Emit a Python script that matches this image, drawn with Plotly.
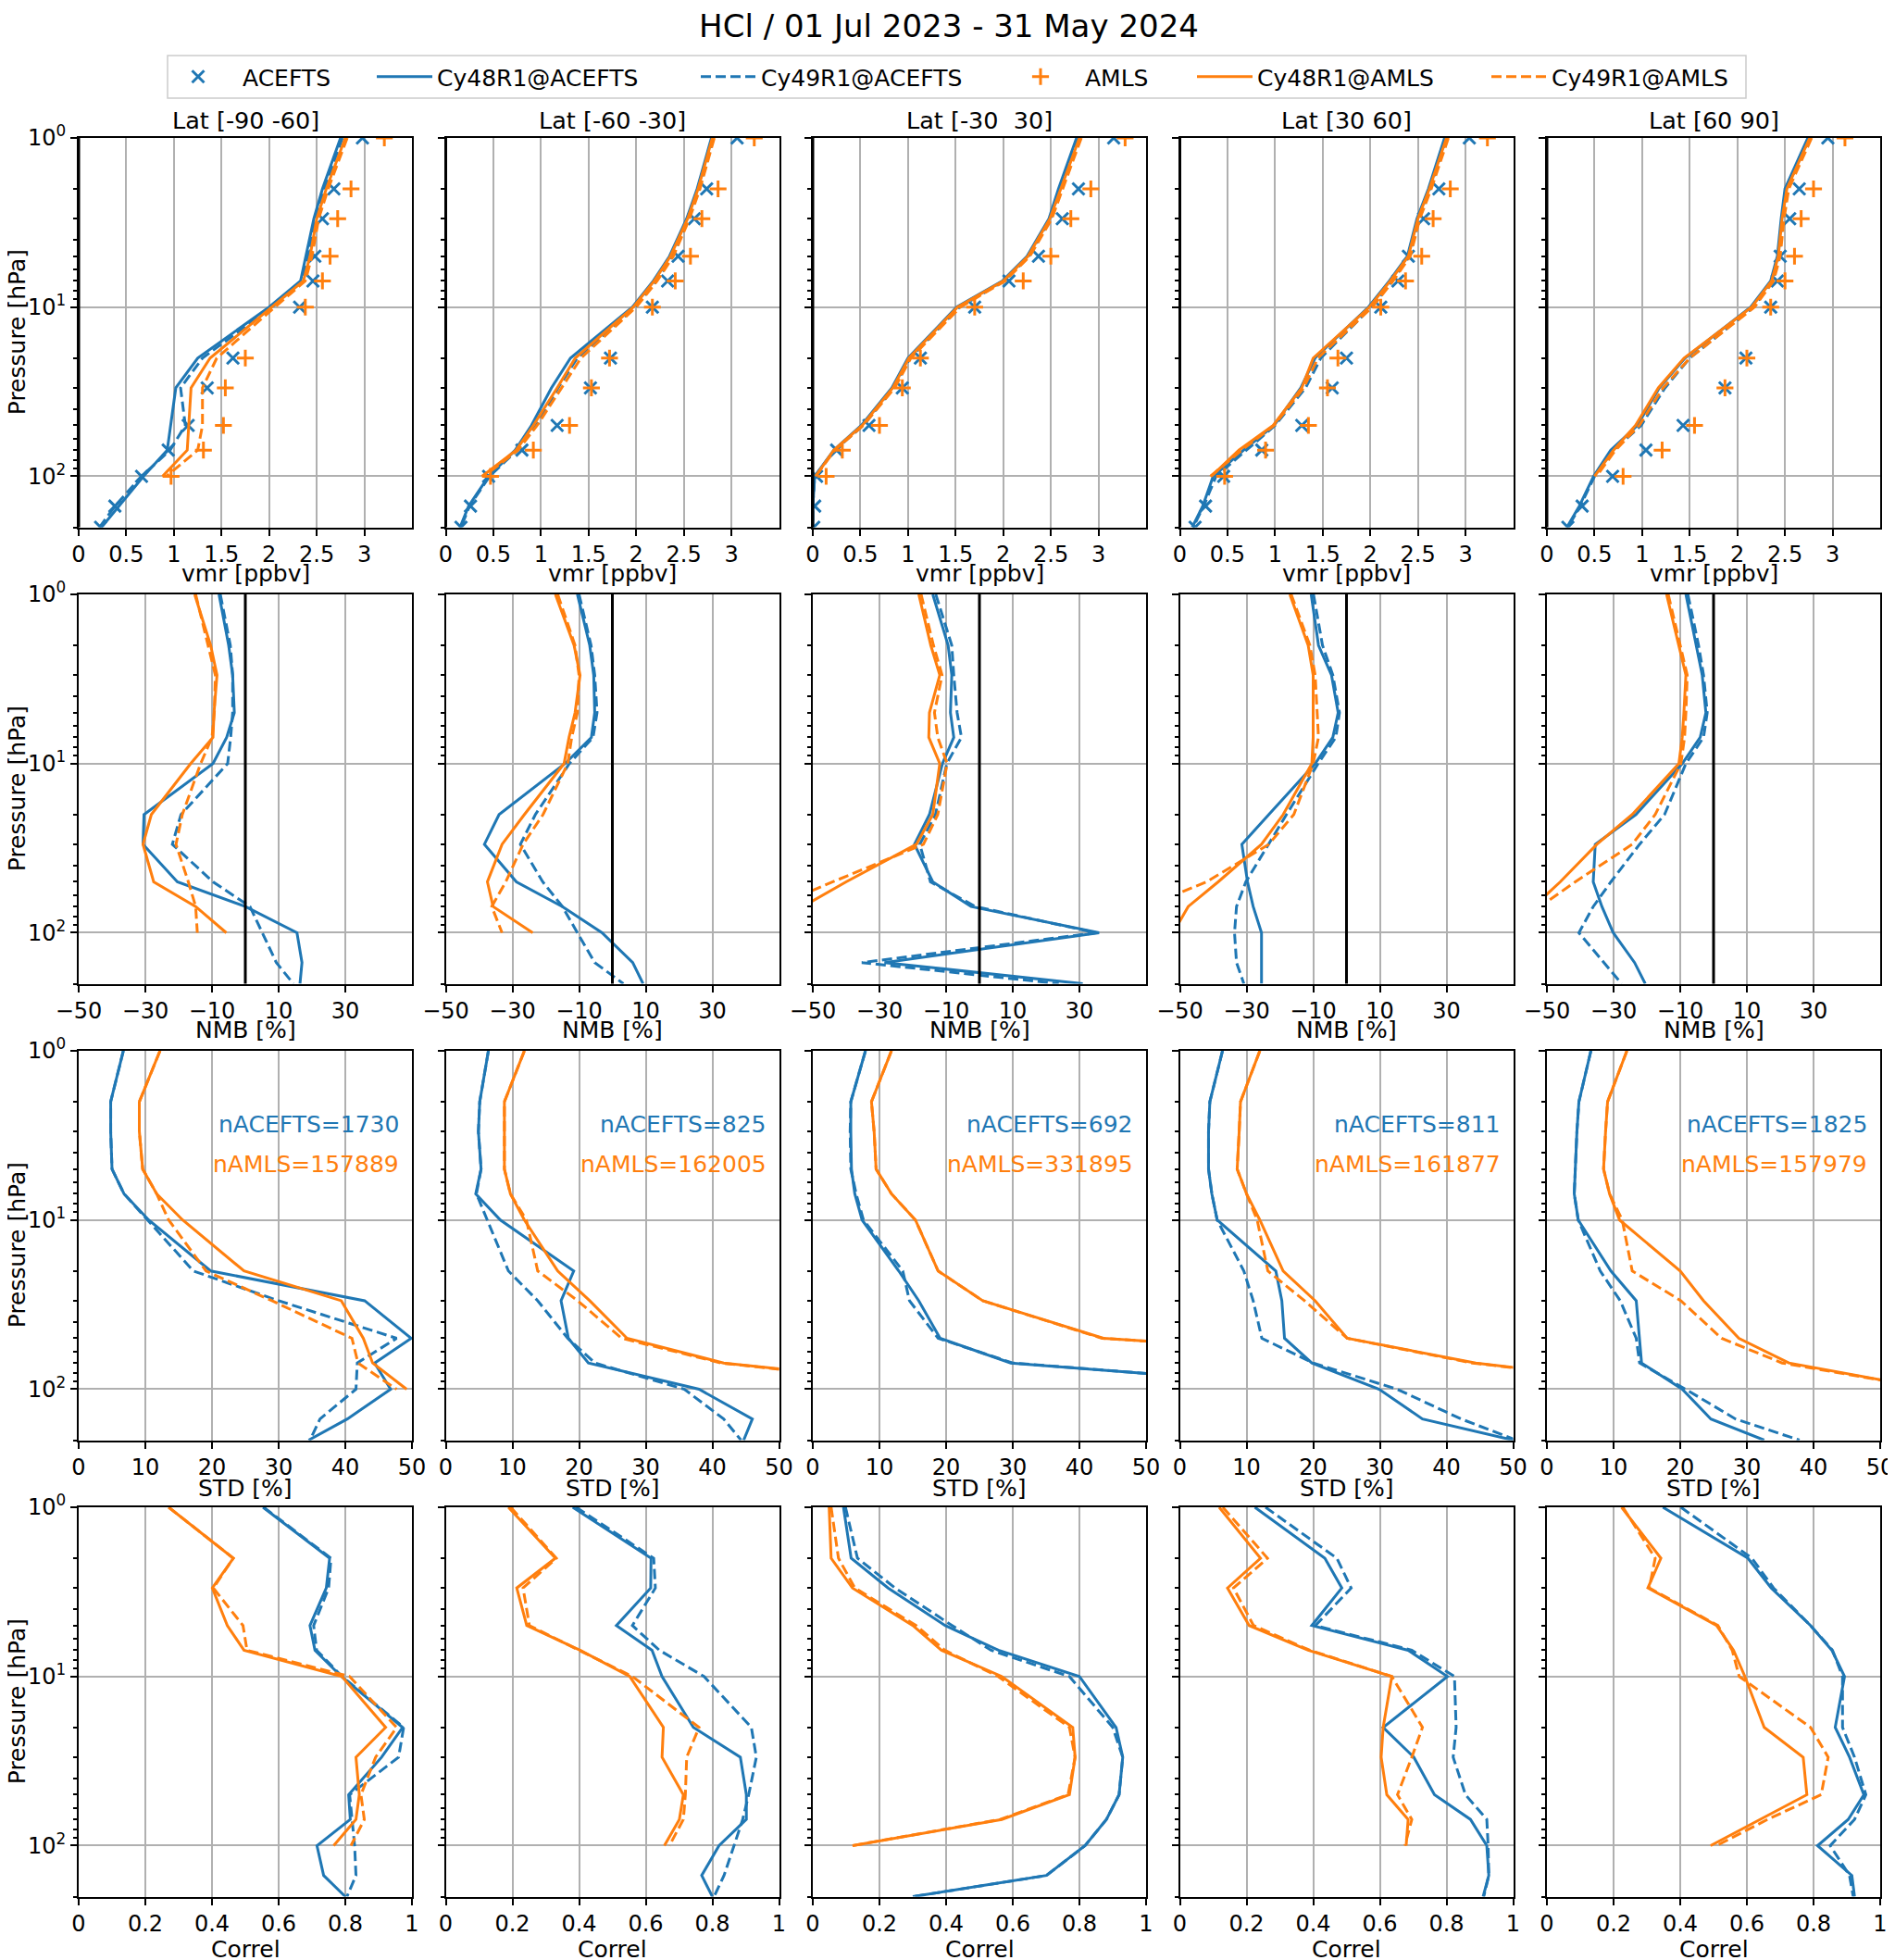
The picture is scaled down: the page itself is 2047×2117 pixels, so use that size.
import plotly.graph_objects as go

W, H = 2047, 2117
PAGE_PAD = 8  # the html body margin shifts the figure by 8 px
BLUE = "#1f77b4"
ORANGE = "#ff7f0e"
FONT = "DejaVu Sans"

# pressure levels [hPa]; AMLS stops at 100 hPa
levels = [1, 2, 3, 5, 7, 10, 20, 30, 50, 70, 100, 150, 200]
levels_amls = levels[:11]

lat_bands = ["Lat [-90 -60]", "Lat [-60 -30]", "Lat [-30\u00a0 30]", "Lat [30 60]", "Lat [60 90]"]
n_acefts = [1730, 825, 692, 811, 1825]
n_amls = [157889, 162005, 331895, 161877, 157979]

# --- row 1: vmr [ppbv] ---
vmr_acefts = [
    [2.98, 2.68, 2.56, 2.48, 2.46, 2.32, 1.62, 1.35, 1.15, 0.94, 0.66, 0.38, 0.23],
    [3.06, 2.74, 2.61, 2.44, 2.33, 2.17, 1.73, 1.52, 1.17, 0.80, 0.45, 0.26, 0.16],
    [3.16, 2.79, 2.62, 2.37, 2.06, 1.70, 1.13, 0.94, 0.59, 0.25, 0.04, 0.02, 0.01],
    [3.04, 2.72, 2.56, 2.40, 2.29, 2.11, 1.75, 1.60, 1.28, 0.86, 0.46, 0.27, 0.16],
    [2.95, 2.65, 2.55, 2.45, 2.42, 2.35, 2.09, 1.87, 1.43, 1.04, 0.69, 0.37, 0.22],
]
vmr_amls = [
    [3.21, 2.86, 2.72, 2.64, 2.56, 2.38, 1.75, 1.54, 1.52, 1.31, 0.97],
    [3.24, 2.86, 2.69, 2.57, 2.41, 2.17, 1.72, 1.53, 1.30, 0.92, 0.47],
    [3.28, 2.92, 2.71, 2.50, 2.21, 1.70, 1.13, 0.94, 0.70, 0.31, 0.14],
    [3.23, 2.84, 2.66, 2.54, 2.37, 2.11, 1.66, 1.55, 1.35, 0.90, 0.47],
    [3.13, 2.80, 2.67, 2.60, 2.50, 2.35, 2.10, 1.87, 1.55, 1.21, 0.80],
]
vmr_cy48_acefts = [
    [2.75, 2.56, 2.47, 2.39, 2.33, 2.00, 1.25, 1.02, 0.97, 0.93, 0.68, 0.42, 0.24],
    [2.79, 2.64, 2.53, 2.35, 2.18, 1.96, 1.31, 1.11, 0.90, 0.73, 0.45, 0.24, 0.15],
    [2.77, 2.58, 2.48, 2.25, 1.99, 1.51, 1.00, 0.83, 0.51, 0.22, 0.02, 0.00, 0.00],
    [2.78, 2.61, 2.49, 2.39, 2.20, 1.98, 1.42, 1.27, 0.99, 0.67, 0.35, 0.24, 0.13],
    [2.74, 2.50, 2.46, 2.42, 2.35, 2.14, 1.45, 1.18, 0.95, 0.67, 0.49, 0.34, 0.21],
]
vmr_cy49_acefts = [
    [2.77, 2.58, 2.49, 2.41, 2.35, 2.03, 1.30, 1.07, 1.12, 0.96, 0.66, 0.38, 0.22],
    [2.81, 2.66, 2.55, 2.38, 2.21, 1.99, 1.38, 1.18, 0.95, 0.75, 0.46, 0.25, 0.16],
    [2.79, 2.60, 2.50, 2.27, 2.01, 1.54, 1.02, 0.85, 0.53, 0.23, 0.02, 0.00, 0.00],
    [2.80, 2.63, 2.51, 2.41, 2.23, 2.01, 1.48, 1.32, 1.00, 0.70, 0.38, 0.25, 0.14],
    [2.76, 2.52, 2.48, 2.44, 2.37, 2.17, 1.50, 1.24, 0.99, 0.70, 0.50, 0.35, 0.22],
]
vmr_cy48_amls = [
    [2.80, 2.60, 2.50, 2.43, 2.36, 2.03, 1.38, 1.18, 1.16, 1.14, 0.88],
    [2.80, 2.65, 2.54, 2.36, 2.19, 1.97, 1.36, 1.17, 0.92, 0.74, 0.38],
    [2.80, 2.60, 2.49, 2.26, 2.00, 1.52, 1.01, 0.84, 0.52, 0.22, 0.03],
    [2.80, 2.62, 2.50, 2.40, 2.21, 1.99, 1.40, 1.28, 0.98, 0.62, 0.33],
    [2.76, 2.52, 2.47, 2.43, 2.36, 2.15, 1.44, 1.17, 0.93, 0.70, 0.50],
]
vmr_cy49_amls = [
    [2.82, 2.62, 2.52, 2.45, 2.38, 2.06, 1.45, 1.30, 1.30, 1.25, 0.92],
    [2.82, 2.67, 2.56, 2.39, 2.22, 2.00, 1.42, 1.22, 0.96, 0.76, 0.40],
    [2.82, 2.62, 2.51, 2.28, 2.02, 1.55, 1.03, 0.86, 0.53, 0.23, 0.03],
    [2.82, 2.64, 2.52, 2.42, 2.24, 2.02, 1.45, 1.30, 0.99, 0.65, 0.32],
    [2.78, 2.54, 2.49, 2.45, 2.38, 2.18, 1.50, 1.22, 0.97, 0.72, 0.52],
]

# --- row 2: NMB [%] ---
nmb_cy48_acefts = [
    [-7.9, -5.0, -3.8, -3.3, -5.6, -9.7, -30.4, -30.7, -20.4, 0.0, 15.5, 17.0, 16.4],
    [-10.5, -6.8, -5.6, -5.3, -6.3, -14.2, -34.0, -38.4, -28.8, -15.0, -3.1, 6.1, 9.2],
    [-14.0, -9.4, -8.3, -8.7, -7.7, -11.1, -15.0, -19.5, -14.0, -2.5, 35.9, -28.5, 31.0],
    [-10.6, -8.4, -4.5, -2.5, -4.1, -9.4, -23.3, -31.4, -29.7, -28.0, -25.5, -25.5, -25.5],
    [-8.3, -5.1, -3.4, -2.3, -4.0, -9.4, -23.3, -35.5, -36.1, -33.5, -30.1, -23.7, -20.5],
]
nmb_cy49_acefts = [
    [-7.5, -4.5, -3.8, -3.8, -4.4, -5.3, -19.3, -21.9, -9.7, 1.4, 5.1, 9.3, 14.4],
    [-10.0, -6.4, -5.3, -4.6, -5.8, -12.9, -23.1, -27.6, -20.9, -15.0, -10.5, -5.3, 3.3],
    [-13.1, -8.3, -7.7, -6.7, -5.4, -9.8, -13.2, -17.9, -14.7, -1.2, 35.0, -35.3, 23.8],
    [-9.9, -7.2, -4.1, -2.1, -3.2, -8.5, -18.0, -23.3, -30.2, -33.0, -33.6, -33.0, -30.8],
    [-7.7, -4.5, -3.0, -1.9, -3.0, -8.3, -14.7, -22.2, -30.8, -36.1, -40.4, -32.9, -27.6],
]
nmb_cy48_amls = [
    [-15.2, -10.4, -8.5, -9.4, -9.7, -16.4, -28.2, -30.7, -27.5, -14.9, -5.7],
    [-17.1, -11.5, -9.7, -11.2, -13.0, -14.5, -26.4, -33.1, -37.5, -35.8, -23.9],
    [-18.2, -14.6, -11.9, -15.0, -15.2, -11.9, -14.0, -18.9, -40.0, -53.0, -70.0],
    [-17.0, -11.5, -10.0, -10.0, -10.0, -10.4, -19.0, -25.5, -38.5, -47.5, -52.0],
    [-14.1, -10.4, -8.3, -8.9, -9.4, -10.4, -24.4, -35.0, -46.0, -54.0, -62.0],
]
nmb_cy49_amls = [
    [-14.9, -11.2, -9.0, -9.3, -10.0, -13.4, -18.9, -20.8, -17.1, -14.9, -14.4],
    [-16.4, -11.2, -10.0, -10.5, -12.2, -13.4, -20.8, -26.8, -32.0, -36.2, -33.1],
    [-17.5, -13.8, -11.2, -13.5, -12.5, -9.7, -12.5, -16.8, -44.0, -62.0, -80.0],
    [-16.6, -11.0, -9.4, -8.8, -8.4, -10.0, -15.8, -23.3, -42.0, -60.0, -70.0],
    [-13.6, -10.0, -7.9, -8.3, -8.7, -9.8, -17.5, -24.4, -41.5, -52.0, -60.0],
]

# --- row 3: STD [%] ---
std_cy48_acefts = [
    [6.7, 4.8, 4.8, 5.0, 6.8, 10.5, 19.8, 42.9, 49.9, 44.4, 46.8, 40.3, 34.5],
    [6.4, 5.1, 4.9, 5.3, 4.5, 8.2, 19.2, 17.3, 18.4, 21.4, 38.0, 46.0, 44.7],
    [7.9, 5.7, 5.7, 5.8, 6.3, 7.4, 12.9, 15.9, 19.1, 29.7, 80.0, 95.0, 100.0],
    [6.4, 4.5, 4.3, 4.3, 4.8, 5.6, 14.4, 15.3, 15.7, 19.8, 29.9, 36.4, 50.0],
    [6.6, 4.8, 4.5, 4.3, 4.1, 4.7, 9.6, 13.4, 13.9, 14.2, 20.3, 24.6, 32.6],
]
std_cy49_acefts = [
    [6.7, 4.8, 4.8, 5.0, 6.8, 10.3, 17.2, 30.0, 47.7, 41.8, 41.6, 36.2, 34.7],
    [6.4, 5.1, 4.9, 5.3, 4.6, 6.2, 9.4, 13.8, 18.3, 22.4, 35.8, 41.7, 44.3],
    [7.9, 5.7, 5.6, 5.7, 6.5, 7.6, 13.5, 14.5, 18.8, 30.0, 80.0, 95.0, 100.0],
    [6.4, 4.5, 4.3, 4.3, 4.8, 5.6, 9.6, 11.0, 12.3, 20.0, 32.6, 42.2, 50.5],
    [6.6, 4.8, 4.5, 4.3, 4.1, 4.7, 8.0, 11.0, 13.4, 13.9, 20.8, 28.3, 37.9],
]
std_cy48_amls = [
    [12.2, 9.1, 9.1, 9.6, 11.7, 15.6, 24.8, 39.4, 42.7, 44.1, 49.2],
    [11.8, 8.8, 8.8, 8.8, 9.7, 11.8, 16.8, 21.6, 27.2, 41.7, 79.0],
    [11.8, 8.8, 9.2, 9.5, 11.8, 15.4, 18.8, 25.5, 43.6, 100.0, 120.0],
    [12.0, 9.1, 8.9, 8.6, 10.0, 12.0, 15.5, 20.3, 25.1, 44.4, 78.0],
    [12.0, 9.1, 8.8, 8.5, 9.4, 10.9, 20.0, 23.5, 28.8, 36.3, 57.8],
]
std_cy49_amls = [
    [12.2, 9.1, 9.1, 9.6, 11.7, 13.5, 19.1, 29.0, 41.0, 41.9, 47.7],
    [11.8, 8.8, 8.8, 8.8, 9.7, 12.1, 13.8, 19.8, 26.4, 41.3, 78.0],
    [11.8, 8.8, 9.2, 9.5, 11.8, 15.4, 18.8, 25.5, 43.4, 100.0, 120.0],
    [12.0, 9.1, 8.9, 8.6, 10.0, 11.6, 13.2, 18.7, 25.1, 43.9, 78.0],
    [12.0, 9.1, 8.8, 8.5, 9.4, 11.3, 12.8, 20.1, 26.2, 35.3, 58.0],
]

# --- row 4: correlation ---
cor_cy48_acefts = [
    [0.553, 0.753, 0.743, 0.694, 0.709, 0.788, 0.972, 0.909, 0.810, 0.815, 0.715, 0.735, 0.800],
    [0.381, 0.616, 0.615, 0.512, 0.619, 0.649, 0.743, 0.884, 0.902, 0.902, 0.820, 0.768, 0.800],
    [0.092, 0.115, 0.226, 0.397, 0.557, 0.800, 0.910, 0.930, 0.919, 0.881, 0.817, 0.701, 0.300],
    [0.225, 0.435, 0.486, 0.396, 0.685, 0.803, 0.610, 0.702, 0.764, 0.872, 0.921, 0.927, 0.910],
    [0.348, 0.603, 0.673, 0.791, 0.855, 0.893, 0.865, 0.908, 0.951, 0.904, 0.812, 0.915, 0.923],
]
cor_cy49_acefts = [
    [0.555, 0.757, 0.750, 0.705, 0.714, 0.790, 0.975, 0.960, 0.813, 0.820, 0.828, 0.832, 0.805],
    [0.391, 0.624, 0.629, 0.560, 0.641, 0.775, 0.917, 0.932, 0.909, 0.891, 0.865, 0.835, 0.805],
    [0.098, 0.134, 0.247, 0.418, 0.535, 0.770, 0.900, 0.930, 0.919, 0.881, 0.817, 0.701, 0.300],
    [0.257, 0.471, 0.514, 0.407, 0.696, 0.824, 0.829, 0.820, 0.857, 0.921, 0.925, 0.927, 0.912],
    [0.402, 0.615, 0.680, 0.791, 0.857, 0.887, 0.887, 0.923, 0.957, 0.923, 0.850, 0.908, 0.919],
]
cor_cy48_amls = [
    [0.270, 0.464, 0.401, 0.446, 0.496, 0.790, 0.921, 0.832, 0.842, 0.832, 0.765],
    [0.188, 0.329, 0.213, 0.243, 0.403, 0.552, 0.653, 0.649, 0.713, 0.701, 0.656],
    [0.049, 0.055, 0.119, 0.300, 0.386, 0.567, 0.780, 0.787, 0.770, 0.567, 0.119],
    [0.118, 0.242, 0.143, 0.208, 0.385, 0.636, 0.610, 0.604, 0.621, 0.685, 0.679],
    [0.224, 0.342, 0.303, 0.509, 0.560, 0.594, 0.652, 0.769, 0.780, 0.641, 0.491],
]
cor_cy49_amls = [
    [0.270, 0.464, 0.404, 0.493, 0.505, 0.813, 0.954, 0.891, 0.847, 0.857, 0.817],
    [0.195, 0.332, 0.232, 0.251, 0.400, 0.560, 0.760, 0.723, 0.719, 0.713, 0.671],
    [0.055, 0.077, 0.126, 0.310, 0.396, 0.556, 0.770, 0.787, 0.766, 0.562, 0.119],
    [0.129, 0.263, 0.161, 0.221, 0.390, 0.636, 0.728, 0.696, 0.653, 0.696, 0.675],
    [0.228, 0.325, 0.307, 0.513, 0.556, 0.577, 0.791, 0.844, 0.823, 0.662, 0.509],
]

# row settings: x title, range, ticks, labels, model series
rows = [
    ("vmr [ppbv]", [0, 3.5], [0, 0.5, 1, 1.5, 2, 2.5, 3],
     ["0", "0.5", "1", "1.5", "2", "2.5", "3"],
     (vmr_cy48_acefts, vmr_cy49_acefts, vmr_cy48_amls, vmr_cy49_amls)),
    ("NMB [%]", [-50, 50], [-50, -30, -10, 10, 30],
     ["\u221250", "\u221230", "\u221210", "10", "30"],
     (nmb_cy48_acefts, nmb_cy49_acefts, nmb_cy48_amls, nmb_cy49_amls)),
    ("STD [%]", [0, 50], [0, 10, 20, 30, 40, 50],
     ["0", "10", "20", "30", "40", "50"],
     (std_cy48_acefts, std_cy49_acefts, std_cy48_amls, std_cy49_amls)),
    ("Correl", [0, 1], [0, 0.2, 0.4, 0.6, 0.8, 1],
     ["0", "0.2", "0.4", "0.6", "0.8", "1"],
     (cor_cy48_acefts, cor_cy49_acefts, cor_cy48_amls, cor_cy49_amls)),
]

# panel geometry in page pixels
col_left = [85, 481.5, 878, 1274.5, 1671]
panel_w = 360
row_top = [149, 642, 1135, 1628]
panel_h = 420.5
xtitle_off = [50, 50, 52, 57]
TICK_SIZE = 24
TEXT_SIZE = 25


def px(x):
    return (x - PAGE_PAD) / W


def py(y):
    return 1 - (y - PAGE_PAD) / H


# legend: one entry per legend so each sits where the reference has it
legend_items = [
    ("ACEFTS", 166, 86), ("Cy48R1@ACEFTS", 402, 60), ("Cy49R1@ACEFTS", 752, 60),
    ("AMLS", 1076, 86), ("Cy48R1@AMLS", 1288, 60), ("Cy49R1@AMLS", 1606, 60),
]
legend_ref = {name: ("legend" if i == 0 else f"legend{i + 1}")
              for i, (name, _, _) in enumerate(legend_items)}

DASH = "11px,5px"
fig = go.Figure()
annotations = []
minor_vals = [v * 10 ** e for e in range(3) for v in range(2, 10) if v * 10 ** e <= 200]


def add(x, y, name, show, xa, ya, **kw):
    fig.add_trace(go.Scatter(x=x, y=y, name=name, showlegend=show,
                             legend=legend_ref[name], xaxis=xa, yaxis=ya, **kw))


for r, (xtitle, xrange_, xticks, xlabels, models) in enumerate(rows):
    for c in range(5):
        idx = r * 5 + c + 1
        xa = "x" if idx == 1 else f"x{idx}"
        ya = "y" if idx == 1 else f"y{idx}"
        first = idx == 1

        if r == 0:
            add(vmr_acefts[c], levels, "ACEFTS", first, xa, ya, mode="markers",
                marker=dict(symbol="x-thin", size=13, line=dict(color=BLUE, width=3)))
        add(models[0][c], levels, "Cy48R1@ACEFTS", first, xa, ya, mode="lines",
            line=dict(color=BLUE, width=3))
        add(models[1][c], levels, "Cy49R1@ACEFTS", first, xa, ya, mode="lines",
            line=dict(color=BLUE, width=3, dash=DASH))
        if r == 0:
            add(vmr_amls[c], levels_amls, "AMLS", first, xa, ya, mode="markers",
                marker=dict(symbol="cross-thin", size=13, line=dict(color=ORANGE, width=3)))
        add(models[2][c], levels_amls, "Cy48R1@AMLS", first, xa, ya, mode="lines",
            line=dict(color=ORANGE, width=3))
        add(models[3][c], levels_amls, "Cy49R1@AMLS", first, xa, ya, mode="lines",
            line=dict(color=ORANGE, width=3, dash=DASH))

        fig.layout["xaxis" if idx == 1 else f"xaxis{idx}"] = dict(
            domain=[px(col_left[c]), px(col_left[c] + panel_w)], anchor=ya,
            range=xrange_, automargin=False,
            tickvals=xticks, ticktext=xlabels, ticks="outside", ticklen=7,
            tickwidth=1.7, tickcolor="black", showline=True, mirror=True,
            linecolor="black", linewidth=2, showgrid=True, gridcolor="#b0b0b0",
            gridwidth=1.6, zeroline=False, tickfont=dict(size=TICK_SIZE, color="black"))
        fig.layout["yaxis" if idx == 1 else f"yaxis{idx}"] = dict(
            domain=[py(row_top[r] + panel_h), py(row_top[r])], anchor=xa,
            type="log", range=[2.30103, 0], automargin=False, tickvals=[1, 10, 100],
            ticktext=["10<sup>0</sup>", "10<sup>1</sup>", "10<sup>2</sup>"],
            showticklabels=(c == 0), ticks="outside", ticklen=7, tickwidth=1.7,
            tickcolor="black", showline=True, mirror=True, linecolor="black",
            linewidth=2, showgrid=True, gridcolor="#b0b0b0", gridwidth=1.6,
            zeroline=False, tickfont=dict(size=TICK_SIZE, color="black"),
            minor=dict(tickvals=minor_vals, ticks="outside", ticklen=4,
                       tickwidth=1.5, tickcolor="black", showgrid=False))

        # vertical reference line at x = 0 (vmr and NMB rows)
        if r in (0, 1):
            fig.add_shape(type="line", x0=0, x1=0, y0=0, y1=1, xref=xa,
                          yref=f"{ya} domain", line=dict(color="black", width=3))

        # x axis title
        annotations.append(dict(
            text=xtitle, x=px(col_left[c] + panel_w / 2),
            y=py(row_top[r] + panel_h + xtitle_off[r]),
            xref="paper", yref="paper", showarrow=False, xanchor="center",
            yanchor="middle", font=dict(size=TEXT_SIZE, color="black")))

        if r == 0:
            annotations.append(dict(
                text=lat_bands[c], x=px(col_left[c] + panel_w / 2),
                y=py(row_top[r] - 19), xref="paper", yref="paper",
                showarrow=False, xanchor="center", yanchor="middle",
                font=dict(size=25.5, color="black")))

        if r == 2:
            xr = px(col_left[c] + panel_w - 12)
            annotations.append(dict(
                text=f"nACEFTS={n_acefts[c]}", x=xr, y=py(row_top[r] + 79),
                xref="paper", yref="paper", showarrow=False, xanchor="right",
                yanchor="middle", font=dict(size=TEXT_SIZE, color=BLUE)))
            annotations.append(dict(
                text=f"nAMLS={n_amls[c]}", x=xr, y=py(row_top[r] + 122),
                xref="paper", yref="paper", showarrow=False, xanchor="right",
                yanchor="middle", font=dict(size=TEXT_SIZE, color=ORANGE)))

    # y axis title on the first column
    annotations.append(dict(
        text="Pressure [hPa]", x=px(18), y=py(row_top[r] + panel_h / 2),
        xref="paper", yref="paper", showarrow=False, textangle=-90,
        xanchor="center", yanchor="middle", font=dict(size=TEXT_SIZE, color="black")))

# legend frame
fig.add_shape(type="rect", xref="paper", yref="paper", layer="below",
              x0=px(181), x1=px(1886), y0=py(106), y1=py(60),
              line=dict(color="#cccccc", width=1.5), fillcolor="white")

legends = {}
for i, (name, x_left, iw) in enumerate(legend_items):
    legends[legend_ref[name]] = dict(
        orientation="h", x=px(x_left), xanchor="left", y=py(83), yanchor="middle",
        borderwidth=0, bgcolor="rgba(0,0,0,0)", font=dict(size=TEXT_SIZE),
        itemwidth=iw)

fig.update_layout(
    template="none",
    width=W, height=H,
    margin=dict(l=0, r=0, t=0, b=0, autoexpand=False),
    paper_bgcolor="white", plot_bgcolor="white",
    font=dict(family=FONT, size=TEXT_SIZE, color="black"),
    title=dict(text="HCl / 01 Jul 2023 - 31 May 2024", x=px(1025), xref="paper",
               xanchor="center", y=py(28), yref="paper", yanchor="middle",
               font=dict(size=34)),
    annotations=annotations,
    **legends,
)

fig.write_html("out.html")
